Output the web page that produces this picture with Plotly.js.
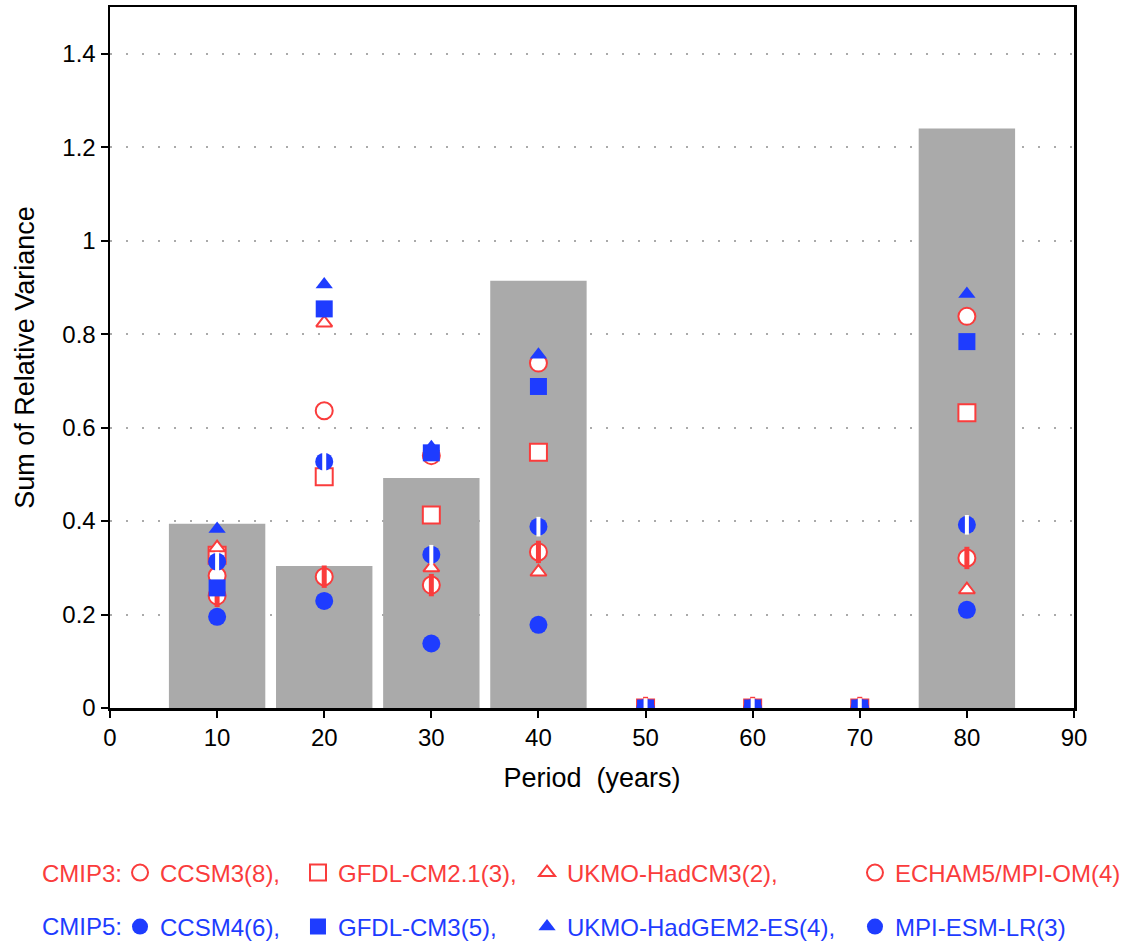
<!DOCTYPE html>
<html><head><meta charset="utf-8">
<script src="https://cdn.plot.ly/plotly-3.0.1.min.js"></script>
<style>html,body{margin:0;padding:0;background:#fff}</style>
</head><body><div id="chart" style="width:1127px;height:946px"></div>
<script>
// Periods (years)
const periods = [10, 20, 30, 40, 50, 60, 70, 80];
// Grey bars: sum of relative variance
const barValues = [0.394, 0.304, 0.492, 0.914, 0, 0, 0, 1.24];
// CMIP3 models
const ccsm3   = [0.283, 0.636, 0.540, 0.738, 0, 0, 0, 0.838];
const gfdl21  = [0.327, 0.495, 0.413, 0.547, 0, 0, 0, 0.632];
const hadcm3  = [0.343, 0.824, 0.300, 0.291, 0, 0, 0, 0.253];
const echam5  = [0.240, 0.281, 0.263, 0.334, 0, 0, 0, 0.321];
// CMIP5 models
const ccsm4   = [0.195, 0.229, 0.138, 0.178, 0, 0, 0, 0.210];
const gfdlcm3 = [0.257, 0.854, 0.546, 0.688, 0, 0, 0, 0.784];
const hadgem2 = [0.383, 0.906, 0.558, 0.756, 0, 0, 0, 0.886];
const mpiesm  = [0.313, 0.527, 0.328, 0.388, 0, 0, 0, 0.392];

const modelNames3 = ['CCSM3(8),', 'GFDL-CM2.1(3),', 'UKMO-HadCM3(2),', 'ECHAM5/MPI-OM(4)'];
const modelNames5 = ['CCSM4(6),', 'GFDL-CM3(5),', 'UKMO-HadGEM2-ES(4),', 'MPI-ESM-LR(3)'];

const RED = 'rgb(250,60,60)';
const BLUE = 'rgb(30,60,255)';
const GREY = 'rgb(170,170,170)';
const FONT = 'Liberation Sans, Arial, sans-serif';

function openPts(y, sym, size, name, leg) {
  return {type:'scatter', mode:'markers', x:periods, y:y, name:name, legend:leg,
    marker:{symbol:sym, size:size, color:'white', line:{color:RED, width:2}}};
}
function fillPts(y, sym, size, name, leg) {
  return {type:'scatter', mode:'markers', x:periods, y:y, name:name, legend:leg,
    marker:{symbol:sym, size:size, color:BLUE, line:{width:0}}};
}

const traces = [
  {type:'bar', x:periods, y:barValues, width:9, marker:{color:GREY, line:{width:0}}, showlegend:false, name:'Sum'},
  openPts(ccsm3, 'circle', 17, modelNames3[0], 'legend'),
  openPts(gfdl21, 'square', 17, modelNames3[1], 'legend2'),
  openPts(hadcm3, 'triangle-up', 14, modelNames3[2], 'legend3'),
  openPts(echam5, 'circle', 17, modelNames3[3], 'legend4'),
  {type:'scatter', mode:'markers', x:periods, y:echam5, showlegend:false,
    marker:{symbol:'line-ns', size:16, line:{color:RED, width:5}}},
  fillPts(ccsm4, 'circle', 18, modelNames5[0], 'legend5'),
  fillPts(gfdlcm3, 'square', 17, modelNames5[1], 'legend6'),
  fillPts(hadgem2, 'triangle-up', 15, modelNames5[2], 'legend7'),
  fillPts(mpiesm, 'circle', 18, modelNames5[3], 'legend8'),
  {type:'scatter', mode:'markers', x:periods, y:mpiesm, showlegend:false,
    marker:{symbol:'line-ns', size:14, line:{color:'white', width:4}}}
];

const colX = [0.0104, 0.195, 0.4326, 0.7728];
const rowY = [-0.2354, -0.3124];
function leg(x, y, color) {
  return {x:x, y:y, xanchor:'left', yanchor:'middle', orientation:'h',
    bgcolor:'rgba(0,0,0,0)', borderwidth:0, itemwidth:30,
    font:{family:FONT, size:24, color:color}};
}

const layout = {
  width:1127, height:946,
  margin:{l:110, r:53, t:7, b:238, autoexpand:false},
  paper_bgcolor:'white', plot_bgcolor:'white',
  font:{family:FONT, color:'black'},
  showlegend:true,
  xaxis:{range:[0,90], dtick:10, tick0:0, showgrid:false, zeroline:false,
    showline:true, linecolor:'black', linewidth:2.5, mirror:true,
    ticks:'outside', ticklen:7, tickwidth:2, tickcolor:'black',
    tickfont:{family:FONT, size:24, color:'black'},
    title:{text:'Period  (years)', font:{family:FONT, size:27, color:'black'}, standoff:18}},
  yaxis:{range:[0,1.5], dtick:0.2, tick0:0, showgrid:true, gridcolor:'rgb(170,170,170)',
    gridwidth:2, griddash:'2px,14px', zeroline:false,
    showline:true, linecolor:'black', linewidth:2.5, mirror:true,
    ticks:'outside', ticklen:7, tickwidth:2, tickcolor:'black',
    tickfont:{family:FONT, size:24, color:'black'},
    title:{text:'Sum of Relative Variance', font:{family:FONT, size:27, color:'black'}, standoff:20}},
  legend: leg(colX[0], rowY[0], RED),
  legend2: leg(colX[1], rowY[0], RED),
  legend3: leg(colX[2], rowY[0], RED),
  legend4: leg(colX[3], rowY[0], RED),
  legend5: leg(colX[0], rowY[1], BLUE),
  legend6: leg(colX[1], rowY[1], BLUE),
  legend7: leg(colX[2], rowY[1], BLUE),
  legend8: leg(colX[3], rowY[1], BLUE),
  annotations:[
    {xref:'paper', yref:'paper', x:-0.0725, y:rowY[0], xanchor:'left', yanchor:'middle',
      showarrow:false, text:'CMIP3:', font:{family:FONT, size:24, color:RED}},
    {xref:'paper', yref:'paper', x:-0.0725, y:rowY[1], xanchor:'left', yanchor:'middle',
      showarrow:false, text:'CMIP5:', font:{family:FONT, size:24, color:BLUE}}
  ]
};

Plotly.newPlot('chart', traces, layout, {displayModeBar:false, staticPlot:true});
</script></body></html>
